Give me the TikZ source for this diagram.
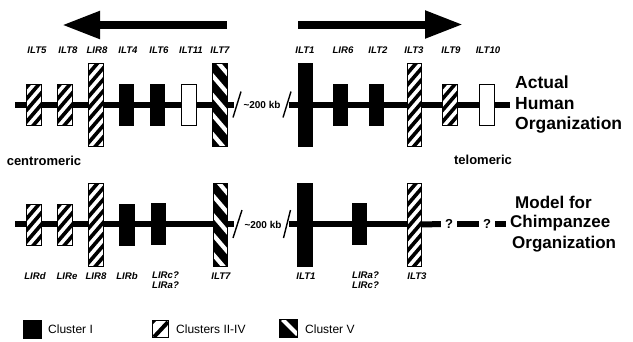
\documentclass[tikz,border=0pt]{standalone}
\usepackage{fontspec}
\setmainfont{Liberation Sans}
\usetikzlibrary{arrows.meta}

\begin{document}
\begin{tikzpicture}[x=1pt,y=-1pt]
\useasboundingbox (0,0) rectangle (633,341);
\tikzset{
  chrom/.style={line width=6pt},
  cutmark/.style={line width=1.4pt},
  bigarrow/.style={line width=8pt, -{Triangle[length=38pt,width=26pt]}},
  gene/.style={rectangle, draw=black, line width=0.9pt, minimum width=14.5pt, inner sep=0pt},
  short/.style={minimum height=41pt},
  tall/.style={minimum height=83pt},
  clI/.style={gene, fill=black},
  clE/.style={gene, fill=white},
  clII/.style={gene, fill=white, path picture={
      \foreach \k in {-4,...,9}
        \draw[black, line width=3.6pt]
          ([yshift=\k*11.5pt]path picture bounding box.south west) ++(-3pt,0pt) -- ++(24pt,28pt);}},
  clV/.style={gene, fill=black, path picture={
      \foreach \k in {0,...,6}
        \draw[white, line width=4.2pt]
          ([yshift=-\k*19.5pt+10pt]path picture bounding box.north west) ++(-3pt,0pt) -- ++(24pt,-28pt);}},
  glabel/.style={font=\fontsize{9.6}{10.2}\selectfont\bfseries\itshape, inner sep=0pt},
  kb/.style={font=\fontsize{10}{12}\selectfont\bfseries, inner sep=0pt},
  endlabel/.style={font=\fontsize{13}{15}\selectfont\bfseries, inner sep=0pt},
  title/.style={font=\fontsize{17.5}{21}\selectfont\bfseries, inner sep=0pt, anchor=west},
  qmark/.style={font=\fontsize{13}{15}\selectfont\bfseries, inner sep=4pt},
  legtext/.style={font=\fontsize{12}{14}\selectfont, inner sep=0pt, anchor=west},
}

% direction of transcription
\coordinate (arL-start) at (227,25);
\coordinate (arL-tip) at (62,25);
\coordinate (arR-start) at (298,24.5);
\coordinate (arR-tip) at (463,24.5);
\draw[bigarrow] (arL-start) -- (arL-tip);
\draw[bigarrow] (arR-start) -- (arR-tip);

% ---------- human cluster ----------
\coordinate (h-left) at (15,104.5);
\coordinate (h-cut1) at (234,104.5);
\coordinate (h-cut2) at (289,104.5);
\coordinate (h-right) at (510,104.5);
\draw[chrom] (h-left) -- (h-cut1);
\draw[chrom] (h-cut2) -- (h-right);
\draw[cutmark] (237,104.5) ++(-4,13) -- ++(8,-26);
\draw[cutmark] (287,104.5) ++(-4,13) -- ++(8,-26);
\node[kb] (h-kb) at (262,104.5) {\textasciitilde 200 kb};

\foreach \n/\x/\t/\s/\lx in {
    ILT5/34/clII/short/37, ILT8/65/clII/short/68, LIR8/96/clII/tall/97,
    ILT4/126.5/clI/short/128, ILT6/157.5/clI/short/159, ILT11/189/clE/short/191,
    ILT7/220/clV/tall/220, ILT1/305.5/clI/tall/305, LIR6/340.5/clI/short/343,
    ILT2/376.5/clI/short/378, ILT3/414.5/clII/tall/414, ILT9/450/clII/short/451,
    ILT10/487/clE/short/488}{
  \node[\t,\s] (h-\n) at (\x,104.5) {};
  \node[glabel] (hl-\n) at (\lx,50) {\n};
}

\node[title] (h-t1) at (515,82) {Actual};
\node[title] (h-t2) at (515,104) {Human};
\node[title] (h-t3) at (515,125.5) {Organization};

\node[endlabel] (cen) at (44,161) {centromeric};
\node[endlabel] (tel) at (483,160) {telomeric};

% ---------- chimpanzee model ----------
\coordinate (c-left) at (15,224);
\coordinate (c-cut1) at (234,224);
\coordinate (c-cut2) at (289,224);
\coordinate (c-mid) at (414.5,224);
\coordinate (c-end) at (506,224);
\draw[chrom] (c-left) -- (c-cut1);
\draw[chrom] (c-cut2) -- (c-mid);
\draw[cutmark] (237.5,224) ++(-4.5,14) -- ++(9,-28);
\draw[cutmark] (287,224) ++(-3.5,14) -- ++(7,-28);
\node[kb] (c-kb) at (263,224.5) {\textasciitilde 200 kb};

\foreach \n/\x/\t/\s/\lx in {
    LIRd/34/clII/short/35, LIRe/65/clII/short/67, LIR8/96/clII/tall/96,
    LIRb/127/clI/short/127, ILT7/220.5/clV/tall/221, ILT1/305/clI/tall/306,
    ILT3/414.5/clII/tall/417}{
  \node[\t,\s] (c-\n) at (\x,224.5) {};
  \node[glabel] (cl-\n) at (\lx,276) {\n};
}
\node[clI,short] (c-LIRca) at (158.5,224) {};
\node[glabel, anchor=north west, align=left] (cl-LIRca) at (152,271.5) {LIRc?\\LIRa?};
\node[clI,short] (c-LIRac) at (359.5,224) {};
\node[glabel, anchor=north west, align=left] (cl-LIRac) at (352,271.5) {LIRa?\\LIRc?};

\node[qmark] (q1) at (449,224) {?};
\node[qmark] (q2) at (487,224) {?};
\draw[chrom] (c-ILT3) -- (q1);
\draw[chrom] (q1) -- (q2);
\draw[chrom] (q2) -- (c-end);

\node[title, font=\fontsize{17}{20}\selectfont\bfseries] (c-t1) at (515,202) {Model for};
\node[title, font=\fontsize{17}{20}\selectfont\bfseries] (c-t2) at (510,223) {Chimpanzee};
\node[title, font=\fontsize{17}{20}\selectfont\bfseries] (c-t3) at (512,244) {Organization};

% ---------- legend ----------
\node[gene, fill=black, minimum width=18pt, minimum height=18pt] (leg1) at (32,329) {};
\node[legtext] (leg1t) at (48,329) {Cluster I};
\node[gene, fill=white, minimum width=16pt, minimum height=17pt, path picture={
    \fill[black] (path picture bounding box.north west) -- ++(5pt,0pt) -- ++(-5pt,-5pt) -- cycle;
    \draw[black, line width=4pt] ([xshift=2pt]path picture bounding box.south west) -- ([yshift=-2pt]path picture bounding box.north east);}]
  (leg2) at (160,328.5) {};
\node[legtext] (leg2t) at (176,329) {Clusters II-IV};
\node[gene, fill=black, minimum width=18pt, minimum height=18pt, path picture={
    \draw[white, line width=4pt] ([xshift=3pt]path picture bounding box.north west) -- ([yshift=3pt]path picture bounding box.south east);}]
  (leg3) at (288.5,328.5) {};
\node[legtext] (leg3t) at (305,329) {Cluster V};
\end{tikzpicture}
\end{document}
